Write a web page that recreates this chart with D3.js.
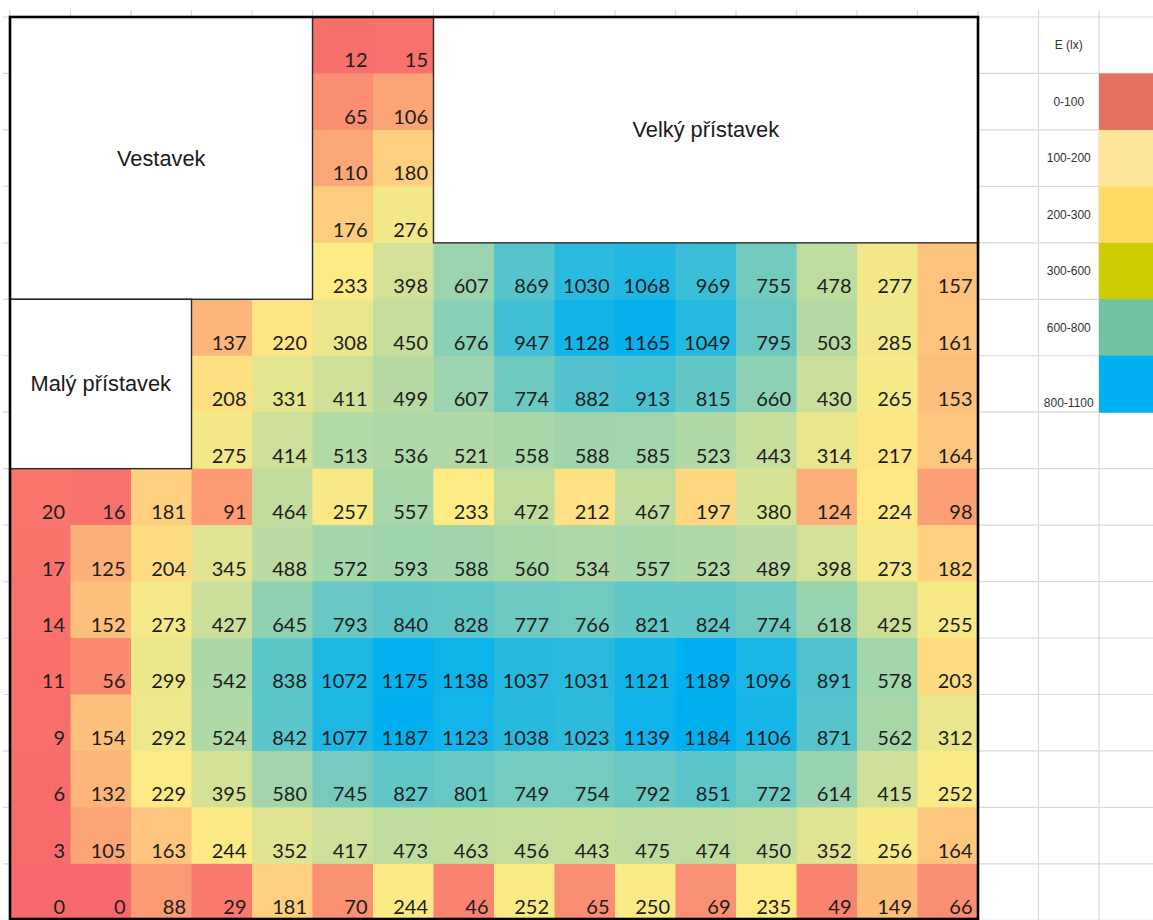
<!DOCTYPE html>
<html>
<head>
<meta charset="utf-8">
<script src="https://cdn.jsdelivr.net/npm/d3@7"></script>
<style>
  html, body { margin: 0; padding: 0; background: #fff; }
  svg { display: block; }
</style>
</head>
<body>
<svg id="chart" width="1153" height="920"></svg>
<script>
// Illuminance E (lx) measured on the floor grid; null = no measurement (annex areas)
const row00 = [null, null, null, null, null, 12, 15, null, null, null, null, null, null, null, null, null];
const row01 = [null, null, null, null, null, 65, 106, null, null, null, null, null, null, null, null, null];
const row02 = [null, null, null, null, null, 110, 180, null, null, null, null, null, null, null, null, null];
const row03 = [null, null, null, null, null, 176, 276, null, null, null, null, null, null, null, null, null];
const row04 = [null, null, null, null, null, 233, 398, 607, 869, 1030, 1068, 969, 755, 478, 277, 157];
const row05 = [null, null, null, 137, 220, 308, 450, 676, 947, 1128, 1165, 1049, 795, 503, 285, 161];
const row06 = [null, null, null, 208, 331, 411, 499, 607, 774, 882, 913, 815, 660, 430, 265, 153];
const row07 = [null, null, null, 275, 414, 513, 536, 521, 558, 588, 585, 523, 443, 314, 217, 164];
const row08 = [20, 16, 181, 91, 464, 257, 557, 233, 472, 212, 467, 197, 380, 124, 224, 98];
const row09 = [17, 125, 204, 345, 488, 572, 593, 588, 560, 534, 557, 523, 489, 398, 273, 182];
const row10 = [14, 152, 273, 427, 645, 793, 840, 828, 777, 766, 821, 824, 774, 618, 425, 255];
const row11 = [11, 56, 299, 542, 838, 1072, 1175, 1138, 1037, 1031, 1121, 1189, 1096, 891, 578, 203];
const row12 = [9, 154, 292, 524, 842, 1077, 1187, 1123, 1038, 1023, 1139, 1184, 1106, 871, 562, 312];
const row13 = [6, 132, 229, 395, 580, 745, 827, 801, 749, 754, 792, 851, 772, 614, 415, 252];
const row14 = [3, 105, 163, 244, 352, 417, 473, 463, 456, 443, 475, 474, 450, 352, 256, 164];
const row15 = [0, 0, 88, 29, 181, 70, 244, 46, 252, 65, 250, 69, 235, 49, 149, 66];
const gridRows = [row00, row01, row02, row03, row04, row05, row06, row07,
                  row08, row09, row10, row11, row12, row13, row14, row15];

// Annex blocks: name, column span and row span (cell index bounds, end exclusive)
const annexNames = ["Vestavek", "Velký přístavek", "Malý přístavek"];
const annexCols = [[0, 5], [7, 16], [0, 3]];
const annexRows = [[0, 5], [0, 4], [5, 8]];

// Legend
const legendTitle = "E (lx)";
const legendLabels = ["0-100", "100-200", "200-300", "300-600", "600-800", "800-1100"];
const legendColors = ["#E4705F", "#FFE599", "#FFD966", "#CCCC00", "#70C3A2", "#00B0F0"];

const svg = d3.select("#chart");
const nCols = 16, nRows = 16;

const x = d3.scaleLinear().domain([0, nCols]).range([10, 978]);
const y = d3.scaleLinear().domain([0, nRows]).range([17, 920.3]);
const cw = x(1) - x(0), ch = y(1) - y(0);

// three-colour scale: red -> yellow -> blue
const allVals = gridRows.flat().filter(v => v !== null);
const color = d3.scaleLinear()
  .domain([d3.min(allVals), 230, d3.max(allVals)])
  .range(["#F8696B", "#FFEB84", "#00B0F0"])
  .interpolate(d3.interpolateRgb);

// spreadsheet gridlines
const gridG = svg.append("g").attr("stroke", "#D9D9D9").attr("stroke-width", 1.2);
d3.range(0, 19).forEach(i => {
  gridG.append("line").attr("x1", x(i)).attr("x2", x(i)).attr("y1", 10).attr("y2", 920);
});
d3.range(0, 17).forEach(j => {
  gridG.append("line").attr("x1", 3).attr("x2", 1153).attr("y1", y(j)).attr("y2", y(j));
});

// white background inside the plan
svg.append("rect").attr("x", x(0)).attr("y", y(0))
  .attr("width", x(nCols) - x(0)).attr("height", y(nRows) - y(0)).attr("fill", "#fff");

// measurement cells
const cells = [];
gridRows.forEach((r, j) => r.forEach((v, i) => { if (v !== null) cells.push({ i, j, v }); }));

svg.append("g").selectAll("rect").data(cells).join("rect")
  .attr("x", d => x(d.i)).attr("y", d => y(d.j))
  .attr("width", cw + 0.6).attr("height", ch + 0.6)
  .attr("fill", d => color(d.v));

svg.append("g").selectAll("text").data(cells).join("text")
  .attr("x", d => x(d.i + 1) - 5.5)
  .attr("y", d => y(d.j + 1) - 6)
  .attr("text-anchor", "end")
  .attr("font-family", "Lato, 'Open Sans', sans-serif")
  .attr("font-size", 20)
  .attr("fill", "#1c1c1c")
  .text(d => d.v);

// annex blocks
annexNames.forEach((name, k) => {
  const [c0, c1] = annexCols[k], [r0, r1] = annexRows[k];
  svg.append("rect")
    .attr("x", x(c0)).attr("y", y(r0))
    .attr("width", x(c1) - x(c0)).attr("height", y(r1) - y(r0))
    .attr("fill", "#fff").attr("stroke", "#2a2a2a").attr("stroke-width", 1.4);
  svg.append("text")
    .attr("x", (x(c0) + x(c1)) / 2).attr("y", (y(r0) + y(r1)) / 2)
    .attr("text-anchor", "middle").attr("dominant-baseline", "central")
    .attr("font-family", "'Liberation Sans', Arial, sans-serif")
    .attr("font-size", 21.8).attr("fill", "#1a1a1a")
    .text(name);
});

// outer frame
svg.append("rect")
  .attr("x", x(0)).attr("y", y(0))
  .attr("width", x(nCols) - x(0)).attr("height", 919 - y(0))
  .attr("fill", "none").attr("stroke", "#000").attr("stroke-width", 2.6);

// legend
const lx = x(17), lw = x(18) - x(17);
svg.append("text")
  .attr("x", lx + lw / 2).attr("y", (y(0) + y(1)) / 2)
  .attr("text-anchor", "middle").attr("dominant-baseline", "central")
  .attr("font-family", "'Liberation Sans', Arial, sans-serif")
  .attr("font-size", 12).attr("fill", "#333")
  .text(legendTitle);

legendLabels.forEach((lab, k) => {
  const r = k + 1;
  svg.append("rect")
    .attr("x", x(18)).attr("y", y(r))
    .attr("width", 60).attr("height", ch + 0.5)
    .attr("fill", legendColors[k]);
  const last = k === legendLabels.length - 1;
  svg.append("text")
    .attr("x", lx + lw / 2)
    .attr("y", last ? y(r + 1) - 5 : (y(r) + y(r + 1)) / 2)
    .attr("text-anchor", "middle")
    .attr("dominant-baseline", last ? "auto" : "central")
    .attr("font-family", "'Liberation Sans', Arial, sans-serif")
    .attr("font-size", 12).attr("fill", "#333")
    .text(lab);
});
</script>
</body>
</html>
